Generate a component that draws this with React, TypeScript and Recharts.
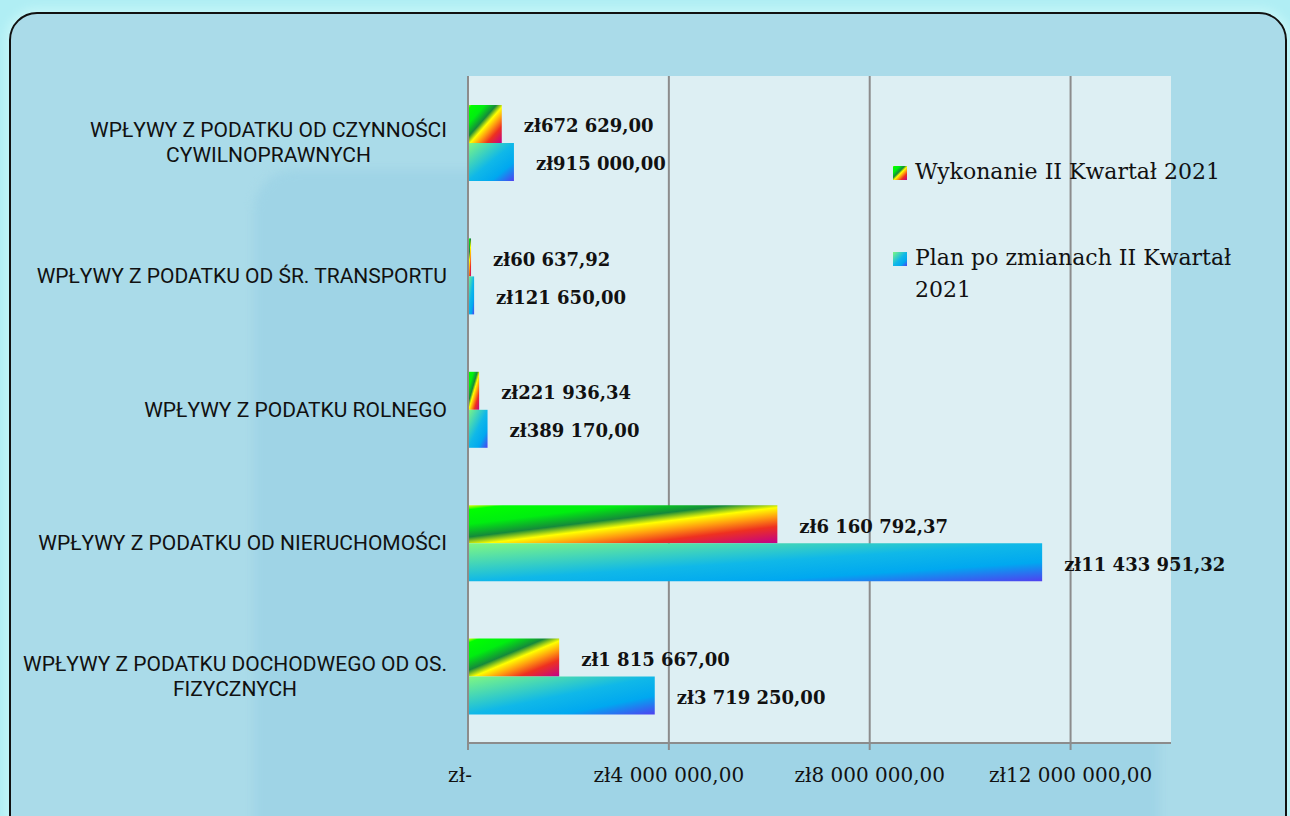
import React from 'react';
import { BarChart, Bar, XAxis, YAxis, CartesianGrid, Legend, LabelList } from 'recharts';

const categories = [
  'WPŁYWY Z PODATKU OD CZYNNOŚCI\nCYWILNOPRAWNYCH',
  'WPŁYWY Z PODATKU OD ŚR. TRANSPORTU',
  'WPŁYWY Z PODATKU ROLNEGO',
  'WPŁYWY Z PODATKU OD NIERUCHOMOŚCI',
  'WPŁYWY Z PODATKU DOCHODWEGO OD OS.\nFIZYCZNYCH',
];
const wykonanie = [672629.0, 60637.92, 221936.34, 6160792.37, 1815667.0];
const plan = [915000.0, 121650.0, 389170.0, 11433951.32, 3719250.0];
const seriesNames = ['Wykonanie II Kwartał 2021', 'Plan po zmianach II Kwartał 2021'];
const xMax = 14000000;
const xTicks = [0, 4000000, 8000000, 12000000];
const bandTicks = [0, 1, 2, 3, 4, 5];

const data = categories.map((name, i) => ({ name, wyk: wykonanie[i], plan: plan[i] }));

const AXIS = '#8c8c8c';
const CAT_FONT = '21px Roboto';

// "zł1 815 667,00" style, zero shown as "zł-"
const zl = (v: number) => {
  if (!v) return 'zł-';
  const [int, dec] = Number(v).toFixed(2).split('.');
  return 'zł' + int.replace(/\B(?=(\d{3})+(?!\d))/g, ' ') + ',' + dec;
};

let ctx: CanvasRenderingContext2D | null = null;
const textWidth = (s: string) => {
  if (!ctx) ctx = document.createElement('canvas').getContext('2d');
  if (!ctx) return s.length * 12;
  ctx.font = CAT_FONT;
  return ctx.measureText(s).width;
};

const CategoryTick = ({ x, y, payload }: any) => {
  const lines = String(payload.value).split('\n');
  const widest = Math.max(...lines.map(textWidth));
  const cx = x - widest / 2;
  return (
    <text textAnchor="middle" fontFamily="Roboto" fontSize={21} fill="#111">
      {lines.map((l, i) => (
        <tspan key={i} x={cx} y={y + (i - (lines.length - 1) / 2) * 25 + 7}>{l}</tspan>
      ))}
    </text>
  );
};

const MoneyTick = ({ x, y, payload }: any) => (
  <text x={x + (payload.value === 0 ? -8 : 0)} y={y} dy="0.71em" textAnchor="middle"
    fontFamily="DejaVu Serif" fontSize={20} fill="#111">
    {zl(payload.value)}
  </text>
);

// grid only at the labelled ticks, not at the domain end
const gridX = ({ xAxis, offset }: any) => {
  const s = xAxis && xAxis.scale;
  return xTicks.map((t) =>
    typeof s === 'function' ? s(t) : offset.left + (t / xMax) * offset.width);
};

const gradIds = ['gradWyk', 'gradPlan'];

const LegendBox = ({ payload }: any) => {
  const items = [...(payload || [])].sort(
    (a: any, b: any) => seriesNames.indexOf(a.value) - seriesNames.indexOf(b.value));
  return (
    <div style={{ fontFamily: 'DejaVu Serif', fontSize: 22, color: '#111', lineHeight: '32px' }}>
      {items.map((p: any, i: number) => (
        <div key={p.value} style={{ display: 'flex', alignItems: 'flex-start', marginBottom: i === 0 ? 54 : 0 }}>
          <svg width={14} height={14} style={{ marginTop: 10, marginRight: 8, flex: 'none' }}>
            <rect width={14} height={14} fill={`url(#${gradIds[seriesNames.indexOf(p.value)]})`} />
          </svg>
          <span style={{ maxWidth: 340 }}>{p.value}</span>
        </div>
      ))}
    </div>
  );
};

const labelStyle = { fontFamily: 'DejaVu Serif', fontWeight: 'bold', fontSize: 18, fill: '#111' };

export default function App() {
  return (
    <div style={{ position: 'absolute', left: 0, top: 0, width: 1290, height: 816, overflow: 'hidden', background: '#b0eef4' }}>
      <div style={{
        position: 'absolute', left: 9, top: 12, width: 1274, height: 850,
        border: '2px solid #111', borderRadius: 28, background: '#aadbe9',
        boxShadow: '0 0 10px 4px #c4f6f8', overflow: 'hidden',
      }}>
        {/* faint backdrop shape behind the labels */}
        <div style={{
          position: 'absolute', left: 243, top: 156, width: 905, height: 720,
          borderRadius: 40, background: '#9fd4e6', filter: 'blur(5px)',
        }} />
      </div>
      <div style={{ position: 'absolute', left: 0, top: 0 }}>
        <BarChart
          width={1290}
          height={816}
          data={data}
          layout="vertical"
          margin={{ top: 76, right: 119, bottom: 0, left: 0 }}
          barSize={38}
          barGap={0}
        >
          <defs>
            <linearGradient id="gradWyk" x1="0" y1="0" x2="1" y2="1">
              <stop offset="0" stopColor="#e8ff00" />
              <stop offset="0.06" stopColor="#00ff00" />
              <stop offset="0.25" stopColor="#00ee10" />
              <stop offset="0.42" stopColor="#158a3a" />
              <stop offset="0.53" stopColor="#ffff00" />
              <stop offset="0.65" stopColor="#ff9a10" />
              <stop offset="0.78" stopColor="#ee3020" />
              <stop offset="1" stopColor="#c0008c" />
            </linearGradient>
            <linearGradient id="gradPlan" x1="0" y1="0" x2="1" y2="1">
              <stop offset="0" stopColor="#80f880" />
              <stop offset="0.5" stopColor="#10b8e8" />
              <stop offset="0.75" stopColor="#00a8f0" />
              <stop offset="1" stopColor="#5040f0" />
            </linearGradient>
          </defs>
          <CartesianGrid
            horizontal={false}
            fill="#ddeff3"
            stroke={AXIS}
            strokeWidth={2}
            verticalCoordinatesGenerator={gridX}
          />
          <XAxis
            type="number"
            domain={[0, xMax]}
            ticks={xTicks}
            height={73}
            axisLine={{ stroke: AXIS, strokeWidth: 2 }}
            tickLine={{ stroke: AXIS, strokeWidth: 2 }}
            tickSize={7}
            tickMargin={18}
            tick={<MoneyTick />}
          />
          <YAxis
            yAxisId="bands"
            type="number"
            domain={[0, 5]}
            ticks={bandTicks}
            width={0}
            tick={false}
            axisLine={false}
            tickLine={{ stroke: AXIS, strokeWidth: 2 }}
            tickSize={7}
            allowDataOverflow
          />
          <YAxis
            type="category"
            dataKey="name"
            width={468}
            axisLine={{ stroke: AXIS, strokeWidth: 2 }}
            tickLine={false}
            tickSize={0}
            tickMargin={21}
            tick={<CategoryTick />}
            interval={0}
          />
          <Legend
            layout="vertical"
            align="center"
            verticalAlign="middle"
            content={<LegendBox />}
            wrapperStyle={{ left: 893, top: 156, width: 380 }}
          />
          <Bar dataKey="wyk" name={seriesNames[0]} fill="url(#gradWyk)" isAnimationActive={false}>
            <LabelList dataKey="wyk" position="right" offset={22} formatter={zl} style={labelStyle} dy={2} />
          </Bar>
          <Bar dataKey="plan" name={seriesNames[1]} fill="url(#gradPlan)" isAnimationActive={false}>
            <LabelList dataKey="plan" position="right" offset={22} formatter={zl} style={labelStyle} dy={2} />
          </Bar>
        </BarChart>
      </div>
    </div>
  );
}
